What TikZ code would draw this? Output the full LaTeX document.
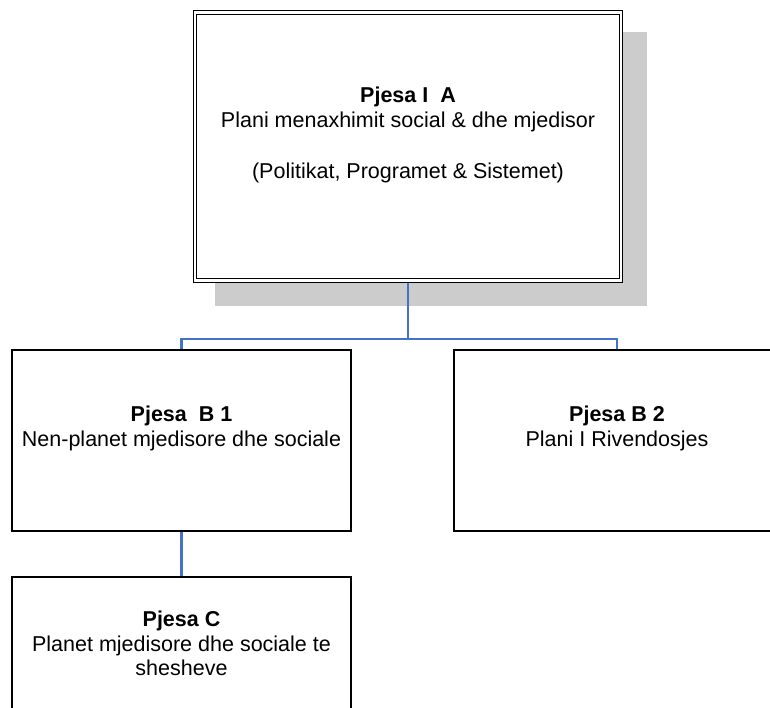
\documentclass[tikz,border=0pt]{standalone}
\usepackage{fontspec}
\setmainfont{Liberation Sans}
\usetikzlibrary{calc}
\pgfdeclarelayer{bg}
\pgfsetlayers{bg,main}
\definecolor{connblue}{RGB}{68,114,196}
\definecolor{shadowgray}{RGB}{204,204,204}
\begin{document}
\begin{tikzpicture}[x=1pt,y=-1pt,
  box/.style={draw=black, line width=1.3pt, fill=white, rectangle, inner sep=0pt, outer sep=0pt},
  mainbox/.style={box, double=white, double distance=2.4pt, line width=1.2pt},
  conn/.style={draw=connblue, line width=2.5pt},
  lbl/.style={anchor=base, inner sep=0pt, font=\fontsize{21.5}{25.5}\selectfont},
  ttl/.style={anchor=base, inner sep=0pt, font=\fontsize{21.5}{25.5}\selectfont\bfseries}]
\path[use as bounding box] (0,0) rectangle (770,707);
\clip (0,0) rectangle (770,707);
% boxes
\node[mainbox, minimum width=426pt, minimum height=268pt] (A) at (408,146.5) {};
\node[box, minimum width=339pt, minimum height=181pt] (B1) at (181.5,440.5) {};
\node[box, minimum width=326pt, minimum height=181pt] (B2) at (617,440.5) {};
\node[box, minimum width=339pt, minimum height=181pt] (C) at (181.5,667.5) {};
\coordinate (bus) at (408,339);
\begin{pgfonlayer}{bg}
  \fill[shadowgray] ($(A.north west)+(19.7,19.8)$) rectangle ($(A.south east)+(25.7,25.2)$);
  \draw[conn] (A.south) -- (bus);
  \draw[conn] (B1.north) |- (bus) -| (B2.north);
  \draw[conn] (B1.south) -- (C.north);
\end{pgfonlayer}
% texts
\node[ttl] (tA1) at (408,102) {Pjesa I~~A};
\node[lbl] (tA2) at (408,127) {Plani menaxhimit social \& dhe mjedisor};
\node[lbl] (tA3) at (408,178) {(Politikat, Programet \& Sistemet)};
\node[ttl] (tB1a) at (181.5,421) {Pjesa~~B 1};
\node[lbl] (tB1b) at (181.5,446) {Nen-planet mjedisore dhe sociale};
\node[ttl] (tB2a) at (617,421) {Pjesa B 2};
\node[lbl] (tB2b) at (617,446) {Plani I Rivendosjes};
\node[ttl] (tCa) at (181.5,626) {Pjesa C};
\node[lbl] (tCb) at (181.5,651) {Planet mjedisore dhe sociale te};
\node[lbl] (tCc) at (181.5,675) {shesheve};
\end{tikzpicture}
\end{document}
